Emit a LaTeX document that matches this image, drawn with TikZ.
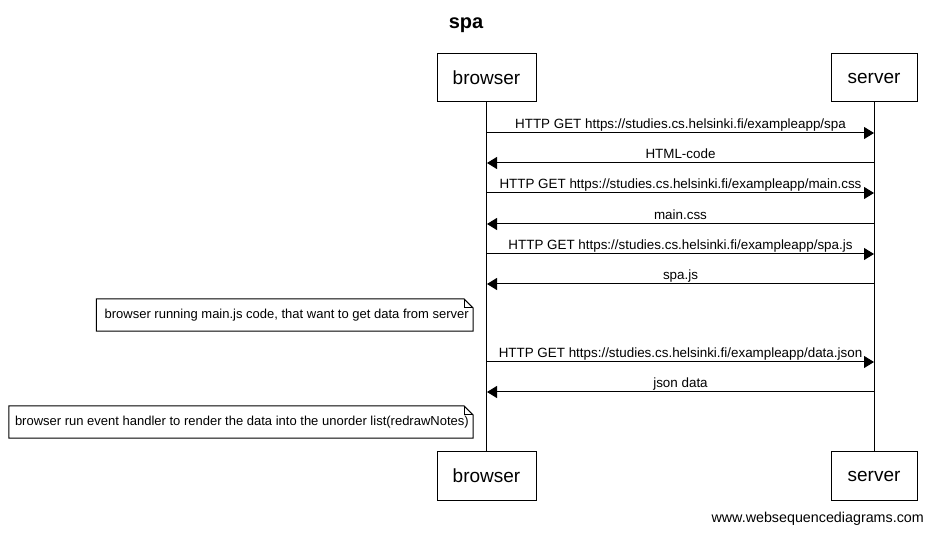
\documentclass[tikz,border=0pt]{standalone}
\usepackage{fontspec}
\setmainfont{Liberation Sans}
\usepackage{xcolor}
\usetikzlibrary{arrows.meta}

\tikzset{
  actor/.style={draw,line width=1pt,minimum height=48pt,inner sep=0pt,font=\fontsize{19}{22}\selectfont},
  msg/.style={line width=1pt,-{Triangle[length=10pt,width=12pt]}},
  msglabel/.style={midway,anchor=base,yshift=4.5pt,inner sep=0pt,font=\fontsize{13.4}{15}\selectfont},
  notetext/.style={inner xsep=0pt,minimum height=32pt,font=\fontsize{13}{15}\selectfont},
  notebox/.style={draw,line width=1pt}
}

\begin{document}
\begin{tikzpicture}[x=1pt,y=-1pt]
\useasboundingbox (0,0) rectangle (932,534);
\node (title) at (466,29) [anchor=base,inner sep=0pt,font=\bfseries\fontsize{20}{24}\selectfont] {spa};

% participants
\node (bt) at (486.5,78) [actor,minimum width=99pt] {browser};
\node (st) at (874,78) [actor,minimum width=86pt] {server};
\node (bb) at (486.5,476) [actor,minimum width=99pt] {browser};
\node (sb) at (874,476) [actor,minimum width=86pt] {server};
\draw [line width=1pt] (bt) -- (bb);
\draw [line width=1pt] (st) -- (sb);

% message end points
\coordinate (b1) at (487,133); \coordinate (s1) at (874,133);
\coordinate (b2) at (487,163); \coordinate (s2) at (874,163);
\coordinate (b3) at (487,193); \coordinate (s3) at (874,193);
\coordinate (b4) at (487,224); \coordinate (s4) at (874,224);
\coordinate (b5) at (487,254); \coordinate (s5) at (874,254);
\coordinate (b6) at (487,284); \coordinate (s6) at (874,284);
\coordinate (b7) at (487,362); \coordinate (s7) at (874,362);
\coordinate (b8) at (487,392); \coordinate (s8) at (874,392);

\draw [msg] (b1) -- (s1) node[msglabel] {HTTP GET https://studies.cs.helsinki.fi/exampleapp/spa};
\draw [msg] (s2) -- (b2) node[msglabel] {HTML-code};
\draw [msg] (b3) -- (s3) node[msglabel] {HTTP GET https://studies.cs.helsinki.fi/exampleapp/main.css};
\draw [msg] (s4) -- (b4) node[msglabel] {main.css};
\draw [msg] (b5) -- (s5) node[msglabel] {HTTP GET https://studies.cs.helsinki.fi/exampleapp/spa.js};
\draw [msg] (s6) -- (b6) node[msglabel] {spa.js};
\draw [msg] (b7) -- (s7) node[msglabel] {HTTP GET https://studies.cs.helsinki.fi/exampleapp/data.json};
\draw [msg] (s8) -- (b8) node[msglabel] {json data};

% notes
\node (n1) at (469,315) [notetext,anchor=east] {browser running main.js code, that want to get data from server};
\draw [notebox] ([xshift=-8pt]n1.south west) -- ([xshift=-8pt]n1.north west) -- ([xshift=-5pt]n1.north east)
  -- ([xshift=4pt,yshift=-9pt]n1.north east) -- ([xshift=4pt]n1.south east) -- cycle;
\draw [line width=0.6pt] ([xshift=-5pt]n1.north east) |- ([xshift=4pt,yshift=-9pt]n1.north east);

\node (n2) at (469,422) [notetext,anchor=east] {browser run event handler to render the data into the unorder list(redrawNotes)};
\draw [notebox] ([xshift=-6pt]n2.south west) -- ([xshift=-6pt]n2.north west) -- ([xshift=-5pt]n2.north east)
  -- ([xshift=4pt,yshift=-9pt]n2.north east) -- ([xshift=4pt]n2.south east) -- cycle;
\draw [line width=0.6pt] ([xshift=-5pt]n2.north east) |- ([xshift=4pt,yshift=-9pt]n2.north east);

\node (footer) at (924,519) [anchor=east,inner sep=0pt,font=\fontsize{14.3}{16}\selectfont] {www.websequencediagrams.com};
\end{tikzpicture}
\end{document}
